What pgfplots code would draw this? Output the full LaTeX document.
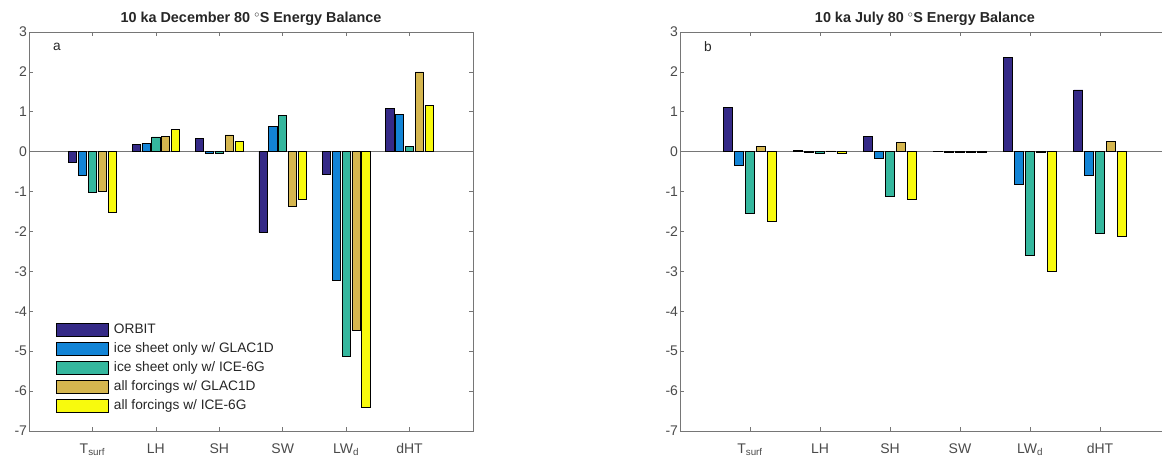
\documentclass[border=0pt]{standalone}
\usepackage{pgfplots}
\pgfplotsset{compat=1.18}
\usepackage{pgfplotstable}
\usepackage{fontspec}
\setmainfont{Liberation Sans}

\definecolor{cOrbit}{HTML}{352A87}
\definecolor{cGlacIce}{HTML}{1284D6}
\definecolor{cIceIce}{HTML}{35B79E}
\definecolor{cGlacAll}{HTML}{D5B64F}
\definecolor{cIceAll}{HTML}{F8FA0D}
\definecolor{axcol}{HTML}{767676}
\definecolor{lblcol}{HTML}{4A4A4A}
\definecolor{ttlcol}{HTML}{262626}

% December energy balance anomalies at 80S (W m^-2 / K)
\pgfplotstableread{
x orbit glacice iceice glacall iceall
1 -0.26 -0.59 -1.02 -0.99 -1.52
2  0.185 0.21  0.37  0.385 0.55
3  0.34 -0.04 -0.05  0.42  0.26
4 -2.02  0.63  0.90 -1.38 -1.19
5 -0.56 -3.23 -5.13 -4.48 -6.41
6  1.08  0.94  0.13  2.00  1.16
}\decdata

% July energy balance anomalies at 80S
\pgfplotstableread{
x orbit glacice iceice glacall iceall
1  1.11 -0.35 -1.55  0.14 -1.75
2  0.03 -0.02 -0.03  0.02 -0.03
3  0.38 -0.17 -1.11  0.23 -1.19
4  0.01 -0.01 -0.01 -0.01 -0.01
5  2.37 -0.83 -2.59 -0.02 -3.00
6  1.55 -0.59 -2.04  0.26 -2.13
}\juldata

\pgfplotsset{
  ebal/.style={
    scale only axis, height=399pt,
    xmin=0, xmax=7, ymin=-7, ymax=3,
    xtick={1,...,6},
    xticklabels={T\textsubscript{surf},LH,SH,SW,LW\textsubscript{d},dHT},
    ytick={-7,...,3},
    tick align=inside, major tick length=4pt,
    axis line style={axcol, line width=0.9pt},
    every tick/.style={axcol, line width=0.7pt},
    ticklabel style={font=\fontsize{14}{16}\selectfont, text=lblcol},
    /pgf/number format/assume math mode=true,
    xticklabel style={yshift=-9pt},
    yticklabel style={xshift=1.5pt},
    title style={font=\bfseries\fontsize{14.4}{16}\selectfont, text=ttlcol,
      at={(0.5,1)}, anchor=south, yshift=-3pt},
    clip=false,
  },
  bars/.style={ybar, bar width=0.128, draw=black, line width=0.7pt,
    legend image code/.code={\draw[##1] (0pt,-6.5pt) rectangle (52pt,6.5pt);}},
}

\begin{document}
\begin{tikzpicture}
\path[use as bounding box] (0pt,-456pt) rectangle (1162pt,0pt);
\clip (0pt,-456pt) rectangle (1162pt,0pt);

\begin{axis}[ebal, at={(29pt,-32pt)}, anchor=north west, width=444pt,
  title={10 ka December 80 $^{\circ}$S Energy Balance},
  legend style={at={(axis description cs:0.061,0.271)}, anchor=north west,
    draw=none, fill=none, inner sep=0pt,
    font=\fontsize{13.7}{15}\selectfont, text=ttlcol,
    nodes={inner sep=0pt, text height=9.5pt, text depth=3pt},
    row sep=5.3pt,
    /tikz/every odd column/.append style={column sep=5pt}},
  legend cell align=left]
  \draw[axcol, line width=0.9pt] (axis cs:0,0) -- (axis cs:7,0);
  \addplot[bars, bar shift=-0.31, fill=cOrbit]   table[x=x, y=orbit]   {\decdata};
  \addplot[bars, bar shift=-0.155, fill=cGlacIce] table[x=x, y=glacice] {\decdata};
  \addplot[bars, bar shift=0,     fill=cIceIce]  table[x=x, y=iceice]  {\decdata};
  \addplot[bars, bar shift=0.155, fill=cGlacAll] table[x=x, y=glacall] {\decdata};
  \addplot[bars, bar shift=0.31,  fill=cIceAll]  table[x=x, y=iceall]  {\decdata};
  \legend{ORBIT, ice sheet only w/ GLAC1D, ice sheet only w/ ICE-6G,
    all forcings w/ GLAC1D, all forcings w/ ICE-6G}
  \node[font=\fontsize{13.7}{15}\selectfont, text=ttlcol, inner sep=0pt]
    at (axis cs:0.44,2.624) {a};
\end{axis}

\begin{axis}[ebal, at={(680pt,-32pt)}, anchor=north west, width=490pt,
  title={10 ka July 80 $^{\circ}$S Energy Balance}]
  \draw[axcol, line width=0.9pt] (axis cs:0,0) -- (axis cs:7,0);
  \addplot[bars, bar shift=-0.31, fill=cOrbit]   table[x=x, y=orbit]   {\juldata};
  \addplot[bars, bar shift=-0.155, fill=cGlacIce] table[x=x, y=glacice] {\juldata};
  \addplot[bars, bar shift=0,     fill=cIceIce]  table[x=x, y=iceice]  {\juldata};
  \addplot[bars, bar shift=0.155, fill=cGlacAll] table[x=x, y=glacall] {\juldata};
  \addplot[bars, bar shift=0.31,  fill=cIceAll]  table[x=x, y=iceall]  {\juldata};
  \node[font=\fontsize{13.7}{15}\selectfont, text=ttlcol, inner sep=0pt]
    at (axis cs:0.40,2.624) {b};
\end{axis}
\end{tikzpicture}
\end{document}
